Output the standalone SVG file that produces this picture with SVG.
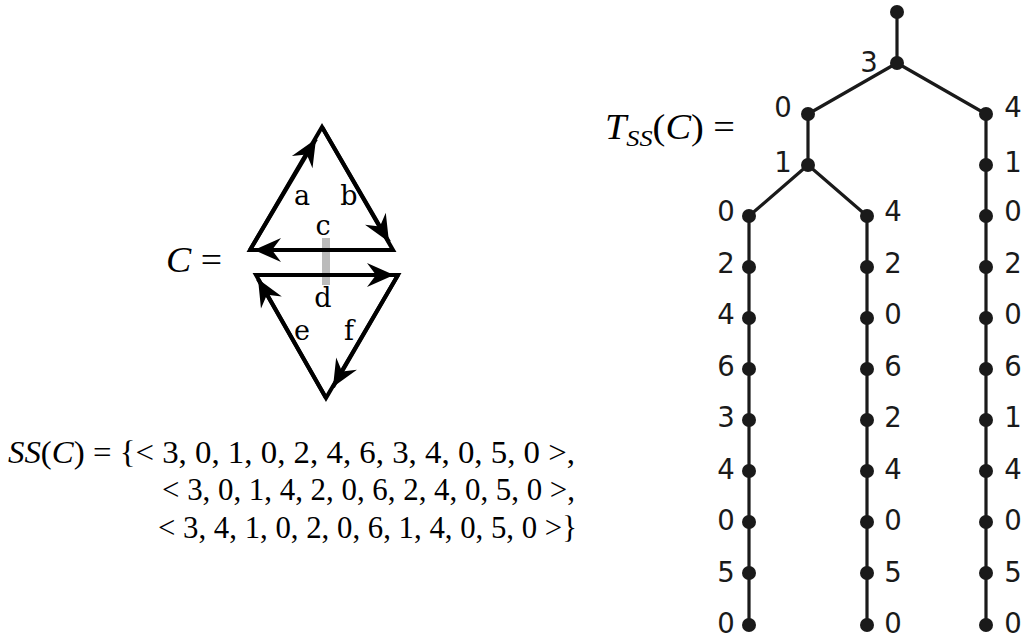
<svg xmlns="http://www.w3.org/2000/svg" width="1025" height="641" viewBox="0 0 1025 641">
<style>
.edge{stroke:#000;stroke-width:4;fill:none;stroke-linejoin:miter;stroke-linecap:butt}
.arr{stroke:#000;stroke-width:4;fill:none}
.lbl{font-family:"DejaVu Serif",serif;font-size:27px;text-anchor:middle;fill:#000}
.math{font-family:"Liberation Serif","DejaVu Serif",serif;font-size:31px;fill:#000}
.big{font-size:35px}
.it{font-style:italic}
.tl{stroke:#1a1a1a;stroke-width:3.2;fill:none}
.dot{fill:#1a1a1a}
.tn{font-family:"DejaVu Sans",sans-serif;font-size:27.5px;fill:#1a1a1a;text-anchor:middle}
</style>
<defs>
<marker id="ah" markerUnits="userSpaceOnUse" viewBox="-30 -14 32 28" refX="0" refY="0" markerWidth="32" markerHeight="28" orient="auto">
<path d="M0,0 L-27,-12 L-18,0 L-27,12 Z" fill="#000"/>
</marker>
</defs>
<rect width="1025" height="641" fill="#fff"/>

<g id="cycle">
<rect x="322" y="238" width="8" height="47" fill="#bbbbbb"/>
<polygon class="edge" points="250,250 322,127 393,250"/>
<polygon class="edge" points="256,275 398,275 326,398"/>
<g id="arrows">
<line class="arr" x1="250" y1="250" x2="316" y2="139" marker-end="url(#ah)"/>
<line class="arr" x1="322" y1="127" x2="389" y2="242" marker-end="url(#ah)"/>
<line class="arr" x1="393" y1="250" x2="254" y2="250" marker-end="url(#ah)"/>
<line class="arr" x1="256" y1="275" x2="394" y2="275" marker-end="url(#ah)"/>
<line class="arr" x1="326" y1="398" x2="258" y2="279" marker-end="url(#ah)"/>
<line class="arr" x1="398" y1="275" x2="333" y2="387" marker-end="url(#ah)"/>
</g>
<text class="lbl" x="302" y="205">a</text>
<text class="lbl" x="349" y="205">b</text>
<text class="lbl" x="323" y="235">c</text>
<text class="lbl" x="323" y="307">d</text>
<text class="lbl" x="302" y="340">e</text>
<text class="lbl" x="349" y="340">f</text>
</g>

<text class="math big" x="166" y="272" textLength="56" lengthAdjust="spacingAndGlyphs"><tspan class="it">C</tspan> =</text>

<g id="sequences">
<text class="math" x="8" y="463" textLength="567" lengthAdjust="spacingAndGlyphs"><tspan class="it">SS</tspan>(<tspan class="it">C</tspan>) = {&lt; 3, 0, 1, 0, 2, 4, 6, 3, 4, 0, 5, 0 &gt;,</text>
<text class="math" x="162" y="500" textLength="413" lengthAdjust="spacingAndGlyphs">&lt; 3, 0, 1, 4, 2, 0, 6, 2, 4, 0, 5, 0 &gt;,</text>
<text class="math" x="158" y="538" textLength="419" lengthAdjust="spacingAndGlyphs">&lt; 3, 4, 1, 0, 2, 0, 6, 1, 4, 0, 5, 0 &gt;}</text>
</g>

<text class="math big" x="605" y="139" textLength="130" lengthAdjust="spacingAndGlyphs"><tspan class="it">T</tspan><tspan class="it" font-size="24" dy="7">SS</tspan><tspan dy="-7">(</tspan><tspan class="it">C</tspan>) =</text>

<g id="connectors">
<polyline class="tl" points="897,12 897,63"/>
<polyline class="tl" points="897,63 808,114 808,165"/>
<polyline class="tl" points="897,63 986,114 986,625"/>
<polyline class="tl" points="808,165 749,216 749,625"/>
<polyline class="tl" points="808,165 867,216 867,625"/>
</g>

<g id="tree-top">
<circle class="dot" cx="897" cy="12" r="7"/>
<circle class="dot" cx="897" cy="63" r="7"/><text class="tn" x="869" y="72">3</text>
<circle class="dot" cx="808" cy="114" r="7"/><text class="tn" x="783" y="117">0</text>
<circle class="dot" cx="808" cy="165" r="7"/><text class="tn" x="783" y="172">1</text>
<circle class="dot" cx="986" cy="114" r="7"/><text class="tn" x="1013" y="117">4</text>
<circle class="dot" cx="986" cy="165" r="7"/><text class="tn" x="1013" y="172">1</text>
</g>

<g id="branch-left">
<circle class="dot" cx="749" cy="216" r="7"/><text class="tn" x="726" y="221">0</text>
<circle class="dot" cx="749" cy="267" r="7"/><text class="tn" x="726" y="272.5">2</text>
<circle class="dot" cx="749" cy="318" r="7"/><text class="tn" x="726" y="324">4</text>
<circle class="dot" cx="749" cy="369" r="7"/><text class="tn" x="726" y="375.5">6</text>
<circle class="dot" cx="749" cy="420" r="7"/><text class="tn" x="726" y="427">3</text>
<circle class="dot" cx="749" cy="471" r="7"/><text class="tn" x="726" y="478.5">4</text>
<circle class="dot" cx="749" cy="522" r="7"/><text class="tn" x="726" y="530">0</text>
<circle class="dot" cx="749" cy="573" r="7"/><text class="tn" x="726" y="581.5">5</text>
<circle class="dot" cx="749" cy="625" r="7"/><text class="tn" x="726" y="633">0</text>
</g>

<g id="branch-middle">
<circle class="dot" cx="867" cy="216" r="7"/><text class="tn" x="893" y="221">4</text>
<circle class="dot" cx="867" cy="267" r="7"/><text class="tn" x="893" y="272.5">2</text>
<circle class="dot" cx="867" cy="318" r="7"/><text class="tn" x="893" y="324">0</text>
<circle class="dot" cx="867" cy="369" r="7"/><text class="tn" x="893" y="375.5">6</text>
<circle class="dot" cx="867" cy="420" r="7"/><text class="tn" x="893" y="427">2</text>
<circle class="dot" cx="867" cy="471" r="7"/><text class="tn" x="893" y="478.5">4</text>
<circle class="dot" cx="867" cy="522" r="7"/><text class="tn" x="893" y="530">0</text>
<circle class="dot" cx="867" cy="573" r="7"/><text class="tn" x="893" y="581.5">5</text>
<circle class="dot" cx="867" cy="625" r="7"/><text class="tn" x="893" y="633">0</text>
</g>

<g id="branch-right">
<circle class="dot" cx="986" cy="216" r="7"/><text class="tn" x="1013" y="221">0</text>
<circle class="dot" cx="986" cy="267" r="7"/><text class="tn" x="1013" y="272.5">2</text>
<circle class="dot" cx="986" cy="318" r="7"/><text class="tn" x="1013" y="324">0</text>
<circle class="dot" cx="986" cy="369" r="7"/><text class="tn" x="1013" y="375.5">6</text>
<circle class="dot" cx="986" cy="420" r="7"/><text class="tn" x="1013" y="427">1</text>
<circle class="dot" cx="986" cy="471" r="7"/><text class="tn" x="1013" y="478.5">4</text>
<circle class="dot" cx="986" cy="522" r="7"/><text class="tn" x="1013" y="530">0</text>
<circle class="dot" cx="986" cy="573" r="7"/><text class="tn" x="1013" y="581.5">5</text>
<circle class="dot" cx="986" cy="625" r="7"/><text class="tn" x="1013" y="633">0</text>
</g>
</svg>
